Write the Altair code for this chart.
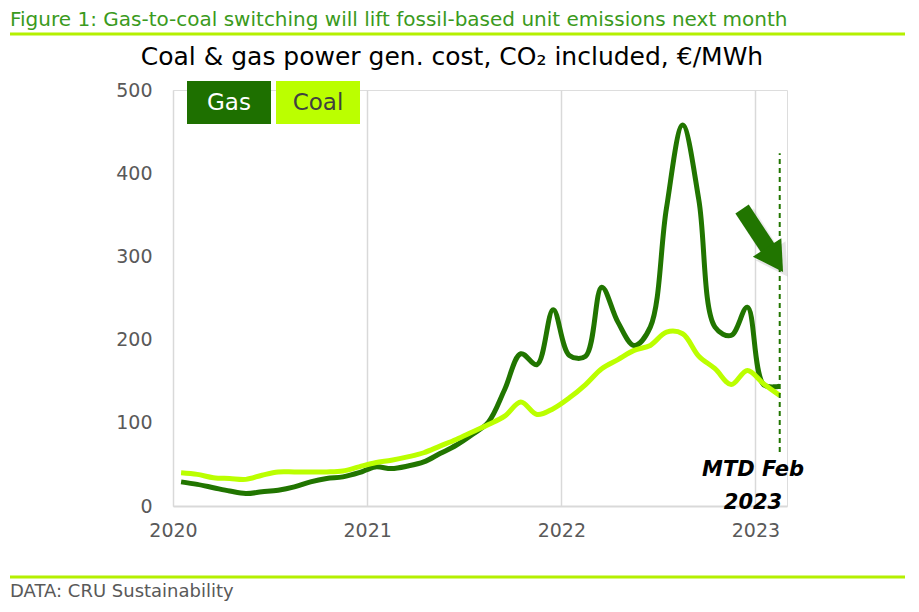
import altair as alt
import pandas as pd

FIGURE_TITLE = "Figure 1: Gas-to-coal switching will lift fossil-based unit emissions next month"
SUBTITLE = "Coal & gas power gen. cost, CO\u2082 included, \u20ac/MWh"
SOURCE = "DATA: CRU Sustainability"
ANNOTATION = ["MTD Feb", "2023"]

months = [f"{y}-{m:02d}" for y in (2020, 2021, 2022) for m in range(1, 13)] + ["2023-01", "2023-02"]
gas = [29, 26, 22, 18, 15, 17, 19, 23, 29, 33, 35, 40,
       47, 45, 48, 53, 63, 73, 86, 101, 140, 183, 170, 236,
       181, 180, 263, 221, 193, 215, 358, 458, 368, 215, 205, 239,
       146, 144]
coal = [40, 38, 34, 33, 32, 37, 41, 41, 41, 41, 42, 47,
        52, 55, 59, 64, 72, 80, 89, 98, 108, 125, 110, 117,
        130, 146, 165, 176, 187, 193, 209, 207, 180, 165, 146, 163,
        147, 133]
year_ticks = [2020, 2021, 2022, 2023]
value_ticks = [0, 100, 200, 300, 400, 500]

# annotation anchors in data units
mtd_month = "2023-02"
dash_range = [65, 424]
arrow_tail = (2022.931, 357)
arrow_base = (2023.064, 310)
arrow_head = (2023.101, 296)

GAS = "#217500"
COAL = "#bbff00"
TITLE_GREEN = "#3a9a20"
LIME = "#b4f000"
GREY = "#595959"
FONT = "DejaVu Sans"


def frac_year(s):
    y, m = s.split("-")
    return int(y) + (int(m) - 0.5) / 12


df = pd.DataFrame({
    "month": months * 2,
    "value": gas + coal,
    "series": ["Gas"] * len(gas) + ["Coal"] * len(coal),
})
df["t"] = df["month"].map(frac_year)

xscale = alt.Scale(domain=[2020, 2023.1625], nice=False, zero=False)
yscale = alt.Scale(domain=[0, 500], nice=False)

xaxis = alt.Axis(values=year_ticks, format="d", grid=True, gridColor="#d9d9d9", gridWidth=1.5,
                 domainColor="#d9d9d9", domainWidth=2, ticks=False, labelFontSize=19,
                 labelColor=GREY, labelFont=FONT, labelPadding=15, title=None, labelFlush=False)
yaxis = alt.Axis(values=value_ticks, grid=False, domain=False, ticks=False, labelFontSize=19,
                 labelColor=GREY, labelFont=FONT, labelPadding=21, title=None)

base = alt.Chart(df).encode(
    x=alt.X("t:Q", scale=xscale, axis=xaxis),
    y=alt.Y("value:Q", scale=yscale, axis=yaxis),
)

gas_line = base.transform_filter(alt.datum.series == "Gas").mark_line(
    interpolate="catmull-rom", strokeWidth=5, color=GAS)
coal_line = base.transform_filter(alt.datum.series == "Coal").mark_line(
    interpolate="catmull-rom", strokeWidth=5, color=COAL)

dash_df = pd.DataFrame({"t": [frac_year(mtd_month)], "lo": [dash_range[0]], "hi": [dash_range[1]]})
dash = alt.Chart(dash_df).mark_rule(color=GAS, strokeDash=[5, 4], strokeWidth=2).encode(
    x=alt.X("t:Q", scale=xscale), y=alt.Y("lo:Q", scale=yscale), y2="hi:Q")

arrow_df = pd.DataFrame({"t": [arrow_tail[0]], "v": [arrow_tail[1]],
                         "t2": [arrow_base[0]], "v2": [arrow_base[1]]})
shaft_shadow = alt.Chart(arrow_df).mark_rule(color="#000000", opacity=0.08, strokeWidth=18,
                                             strokeCap="butt", xOffset=4, yOffset=4).encode(
    x=alt.X("t:Q", scale=xscale), y=alt.Y("v:Q", scale=yscale), x2="t2:Q", y2="v2:Q")
shaft = alt.Chart(arrow_df).mark_rule(color=GAS, strokeWidth=16, strokeCap="butt").encode(
    x=alt.X("t:Q", scale=xscale), y=alt.Y("v:Q", scale=yscale), x2="t2:Q", y2="v2:Q")
head_df = pd.DataFrame({"t": [arrow_head[0]], "v": [arrow_head[1]]})
head_shadow = alt.Chart(head_df).mark_point(shape="triangle-up", size=1250, filled=True, opacity=0.1,
                                            color="#000000", angle=147, xOffset=4, yOffset=4).encode(
    x=alt.X("t:Q", scale=xscale), y=alt.Y("v:Q", scale=yscale))
head = alt.Chart(head_df).mark_point(shape="triangle-up", size=1150, filled=True, opacity=1,
                                     color=GAS, angle=147).encode(
    x=alt.X("t:Q", scale=xscale), y=alt.Y("v:Q", scale=yscale))

one = pd.DataFrame({"a": [0]})

mtd_text = alt.Chart(one).mark_text(font=FONT, fontSize=21, fontWeight="bold", fontStyle="italic",
                                    color="black", align="center", baseline="alphabetic",
                                    lineHeight=33).encode(
    x=alt.value(580), y=alt.value(386), text=alt.value(ANNOTATION))

gas_box = alt.Chart(one).mark_rect(color="#1e7000").encode(
    x=alt.value(14), x2=alt.value(98), y=alt.value(-9), y2=alt.value(34))
coal_box = alt.Chart(one).mark_rect(color=COAL).encode(
    x=alt.value(103), x2=alt.value(187), y=alt.value(-9), y2=alt.value(34))
gas_lbl = alt.Chart(one).mark_text(font=FONT, fontSize=23, color="white", align="center",
                                   baseline="middle").encode(
    x=alt.value(56), y=alt.value(13), text=alt.value("Gas"))
coal_lbl = alt.Chart(one).mark_text(font=FONT, fontSize=23, color="#404040", align="center",
                                    baseline="middle").encode(
    x=alt.value(145), y=alt.value(13), text=alt.value("Coal"))

title_txt = alt.Chart(one).mark_text(font=FONT, fontSize=20, color=TITLE_GREEN, align="left",
                                     baseline="middle").encode(
    x=alt.value(-163), y=alt.value(-70), text=alt.value(FIGURE_TITLE))
top_rule = alt.Chart(one).mark_rule(color=LIME, strokeWidth=3).encode(
    x=alt.value(-163), x2=alt.value(732), y=alt.value(-56))
sub_txt = alt.Chart(one).mark_text(font=FONT, fontSize=25, color="black", align="center",
                                   baseline="middle").encode(
    x=alt.value(279), y=alt.value(-33), text=alt.value(SUBTITLE))
bottom_rule = alt.Chart(one).mark_rule(color=LIME, strokeWidth=3).encode(
    x=alt.value(-163), x2=alt.value(732), y=alt.value(487))
source_txt = alt.Chart(one).mark_text(font=FONT, fontSize=18, color=GREY, align="left",
                                      baseline="middle").encode(
    x=alt.value(-163), y=alt.value(502), text=alt.value(SOURCE))

chart = alt.layer(
    gas_line, coal_line, dash, shaft_shadow, head_shadow, shaft, head, mtd_text,
    gas_box, coal_box, gas_lbl, coal_lbl,
    title_txt, top_rule, sub_txt, bottom_rule, source_txt,
).properties(
    width=614, height=416,
    autosize=alt.AutoSizeParams(type="none"),
    padding={"left": 165, "top": 82, "right": 124, "bottom": 106},
).configure_view(stroke=None).configure(background="white")

chart.save("out.html", embed_options={"renderer": "svg", "actions": False})
